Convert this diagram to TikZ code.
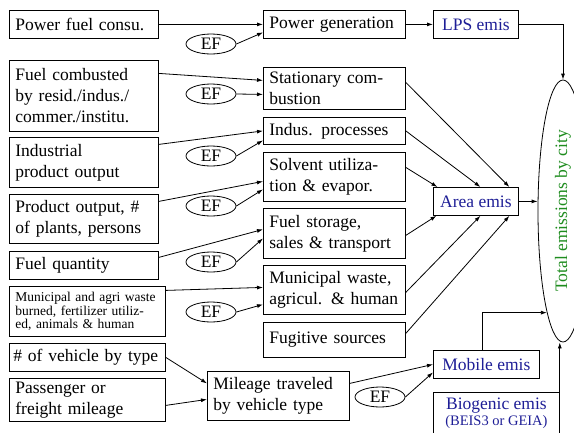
\documentclass[tikz,border=0pt]{standalone}
\usepackage{fontspec}
\setmainfont{Liberation Serif}
\usetikzlibrary{positioning, shapes.geometric, arrows.meta}
\definecolor{emisblue}{RGB}{30,30,150}
\definecolor{citygreen}{RGB}{30,140,30}

\begin{document}
\begin{tikzpicture}[
          x=1pt, y=-1pt, line width=0.8pt,
          every node/.style={font=\fontsize{17.5}{21}\selectfont},
          bx/.style 2 args={draw, rectangle, anchor=north west, align=left,
            inner xsep=6pt, inner ysep=0pt, text width=#1, minimum height=#2},
          ebx/.style={draw, rectangle, anchor=north west, align=center,
            inner sep=0pt, text=emisblue, minimum height=28pt},
          ef/.style={draw, ellipse, minimum width=50pt, minimum height=20pt, inner sep=0pt},
          arr/.style={-{Latex[length=6pt,width=4pt]}}
        ]
        \useasboundingbox (0,0) rectangle (574,432);
        % inputs
        \node[bx={137pt}{28pt}] (pfuel) at (9,10) {Power fuel consu.};
        \node[bx={137pt}{71pt}] (fcomb) at (9,60) {Fuel combusted\\by resid./indus./\\commer./institu.};
        \node[bx={137pt}{50pt}] (indout) at (9,137) {Industrial\\product output};
        \node[bx={137pt}{49pt}] (prodout) at (9,194) {Product output, \#\\of plants, persons};
        \node[bx={137pt}{28pt}] (fuelq) at (9,251) {Fuel quantity};
        \node[bx={144pt}{50pt}, font=\fontsize{13.5}{13.5}\selectfont] (wastein) at (9,286) {Municipal and agri waste\\burned, fertilizer utiliz-\\ed, animals \& human};
        \node[bx={148pt}{28pt}, inner xsep=4pt] (nveh) at (9,343) {\mbox{\# of vehicle by type}};
        \node[bx={144pt}{43pt}] (pmile) at (9,378) {Passenger or\\freight mileage};
        % source categories
        \node[bx={130pt}{28pt}] (powgen) at (263,10) {Power generation};
        \node[bx={130pt}{42pt}] (stat) at (263,67) {Stationary com-\\bustion};
        \node[bx={130pt}{27pt}] (indus) at (263,117) {Indus. processes};
        \node[bx={130pt}{49pt}] (solv) at (263,152) {Solvent utiliza-\\tion \& evapor.};
        \node[bx={130pt}{50pt}] (fstor) at (263,208) {Fuel storage,\\sales \& transport};
        \node[bx={130pt}{49pt}] (muni) at (263,265) {Municipal waste,\\agricul. \& human};
        \node[bx={130pt}{35pt}] (fugit) at (263,322) {Fugitive sources};
        \node[bx={130pt}{49pt}] (mile) at (207,371) {Mileage traveled\\by vehicle type};
        % emissions
        \node[ebx, minimum width=85pt] (lps) at (433,10) {LPS emis};
        \node[ebx, minimum width=85pt] (area) at (433,187) {Area emis};
        \node[ebx, minimum width=106pt] (mobile) at (433,350) {Mobile emis};
        \node[ebx, minimum width=126pt, minimum height=42pt] (biog) at (433,392) {Biogenic emis\\[-5pt]{\fontsize{14.5}{14.5}\selectfont (BEIS3 or GEIA)}};
        \node[draw, ellipse, minimum width=50pt, minimum height=262pt, inner sep=0pt, text=citygreen] (total) at (563,211) {\rotatebox{90}{Total emissions by city}};
        % emission factors
        \foreach \i/\yy in {1/44, 2/94, 3/156, 4/206, 5/262, 6/312}{\node[ef] (ef\i) at (211,\yy) {EF};}
        \node[ef] (ef7) at (380,397) {EF};
        % inputs to categories
        \draw[arr] (pfuel.east) -- (powgen.west);
        \draw[arr] (ef1.east) -- ([yshift=-8pt]powgen.west);
        \draw[arr] ([yshift=22.5pt]fcomb.east) -- ([yshift=8pt]stat.west);
        \draw[arr] (ef2.east) -- ([yshift=-6pt]stat.west);
        \draw[arr] ([yshift=18pt]indout.east) -- (indus.west);
        \draw[arr] (ef3.east) -- ([yshift=-9.5pt]indus.west);
        \draw[arr] ([yshift=17.5pt]prodout.east) -- ([yshift=-4.5pt]solv.west);
        \draw[arr] (ef4.east) -- ([yshift=-12.5pt]solv.west);
        \draw[arr] ([yshift=8pt]fuelq.east) -- ([yshift=4pt]fstor.west);
        \draw[arr] (ef5.east) -- ([yshift=-5pt]fstor.west);
        \draw[arr] ([yshift=21pt]wastein.east) -- ([yshift=2.5pt]muni.west);
        \draw[arr] (ef6.east) -- ([yshift=-14.5pt]muni.west);
        \draw[arr] (nveh.east) -- ([yshift=12.5pt]mile.west);
        \draw[arr] ([yshift=-5.5pt]pmile.east) -- ([yshift=-3.5pt]mile.west);
        \draw[arr] ([yshift=12.5pt]mile.east) -- (mobile.west);
        \draw[arr] (ef7.east) -- ([yshift=-8pt]mobile.west);
        % categories to emissions
        \draw[arr] (powgen.east) -- (lps.west);
        \draw[arr] ([yshift=6pt]stat.east) -- ([xshift=33.5pt]area.north);
        \draw[arr] (indus.east) -- ([xshift=4.5pt]area.north);
        \draw[arr] ([yshift=9.5pt]solv.east) -- ([xshift=-38.5pt]area.north);
        \draw[arr] ([yshift=-2pt]fstor.east) -- ([xshift=-39.5pt]area.south);
        \draw[arr] ([yshift=-2.5pt]muni.east) -- ([xshift=4.5pt]area.south);
        \draw[arr] ([yshift=6.5pt]fugit.east) -- ([xshift=33.5pt]area.south);
        % emissions to total
        \draw[arr] (lps.east) -| (total.north);
        \draw[arr] (area.east) -- (area.east -| total.west);
        \draw[arr] ([xshift=-4pt]mobile.north) |- (total.261);
        \draw[arr] (biog.north east) -- (biog.north east |- total.south);
      \end{tikzpicture}
\end{document}
